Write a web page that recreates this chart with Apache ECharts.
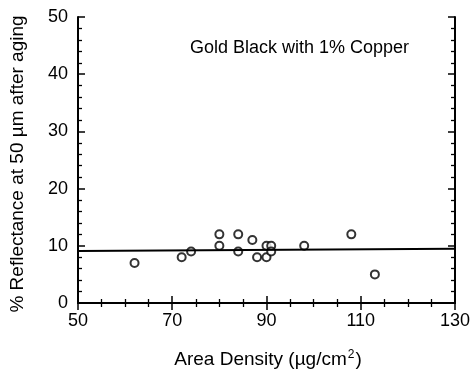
<!DOCTYPE html>
<html>
<head>
<meta charset="utf-8">
<script src="https://cdn.jsdelivr.net/npm/echarts@6/dist/echarts.min.js"></script>
<style>
  html, body { margin: 0; padding: 0; background: #fff; }
  #chart { width: 473px; height: 376px; }
</style>
</head>
<body>
<div id="chart"></div>
<script>
// Measured samples: area density (µg/cm²) and reflectance (%)
const areaDensity = [62, 72, 74, 80, 80, 84, 84, 87, 88, 90, 90, 91, 91, 98, 108, 113];
const reflectance = [7, 8, 9, 12, 10, 12, 9, 11, 8, 10, 8, 10, 9, 10, 12, 5];

// Fitted line endpoints
const fitX = [50, 130];
const fitY = [9.1, 9.5];

const xTicks = [50, 70, 90, 110, 130];
const yTicks = [0, 10, 20, 30, 40, 50];

const titleText = 'Gold Black with 1% Copper';
const yName = '% Reflectance at 50 \u00b5m after aging';

const font = 'Liberation Sans, Arial, Helvetica, sans-serif';

const points = areaDensity.map((x, i) => [x, reflectance[i]]);
const fitLine = fitX.map((x, i) => [x, fitY[i]]);

const chart = echarts.init(document.getElementById('chart'), null, { renderer: 'canvas' });

const axisLine = { show: true, lineStyle: { color: '#000', width: 2 } };
const tick = { show: true, inside: true, length: 7, lineStyle: { color: '#000', width: 1.5 } };
const minor = (n) => ({ show: true, splitNumber: n, length: 4, lineStyle: { color: '#000', width: 1.3 } });

chart.setOption({
  animation: false,
  backgroundColor: '#fff',
  grid: { left: 78, right: 15, top: 17, bottom: 73 },
  graphic: [
    {
      type: 'text', x: 190, y: 48,
      style: { text: titleText, font: '18px ' + font, fill: '#000', verticalAlign: 'middle' }
    },
    {
      type: 'text', x: 268, y: 359,
      style: {
        text: '{t|Area Density (\u00b5g/cm}{s|2}{t|)}',
        align: 'center', verticalAlign: 'middle',
        rich: {
          t: { font: '19px ' + font, fill: '#000', verticalAlign: 'bottom' },
          s: { font: '12px ' + font, fill: '#000', verticalAlign: 'top', padding: [0, 1, 8, 1] }
        }
      }
    },
    {
      type: 'text', x: 18, y: 164, rotation: Math.PI / 2,
      style: { text: yName, font: '19px ' + font, fill: '#000', align: 'center', verticalAlign: 'middle' }
    }
  ],
  xAxis: [
    {
      type: 'value', min: xTicks[0], max: xTicks[xTicks.length - 1], interval: 20,
      axisLine, axisTick: tick, minorTick: minor(4), splitLine: { show: false },
      axisLabel: { color: '#000', fontSize: 18, fontFamily: font, margin: 9 }
    },
    {
      type: 'value', position: 'top', min: xTicks[0], max: xTicks[xTicks.length - 1], interval: 20,
      axisLine, axisTick: tick, minorTick: minor(4), splitLine: { show: false },
      axisLabel: { show: false }
    }
  ],
  yAxis: [
    {
      type: 'value', min: yTicks[0], max: yTicks[yTicks.length - 1], interval: 10,
      axisLine, axisTick: tick, minorTick: minor(5), splitLine: { show: false },
      axisLabel: { color: '#000', fontSize: 18, fontFamily: font, margin: 10 }
    },
    {
      type: 'value', position: 'right', min: yTicks[0], max: yTicks[yTicks.length - 1], interval: 10,
      axisLine, axisTick: tick, minorTick: minor(5), splitLine: { show: false },
      axisLabel: { show: false }
    }
  ],
  series: [
    {
      type: 'line', data: fitLine, symbol: 'none',
      lineStyle: { color: '#000', width: 2 }, silent: true
    },
    {
      type: 'scatter', data: points, symbol: 'circle', symbolSize: 8,
      itemStyle: { color: '#fff', borderColor: '#000', borderWidth: 2 }
    }
  ]
});
</script>
</body>
</html>
